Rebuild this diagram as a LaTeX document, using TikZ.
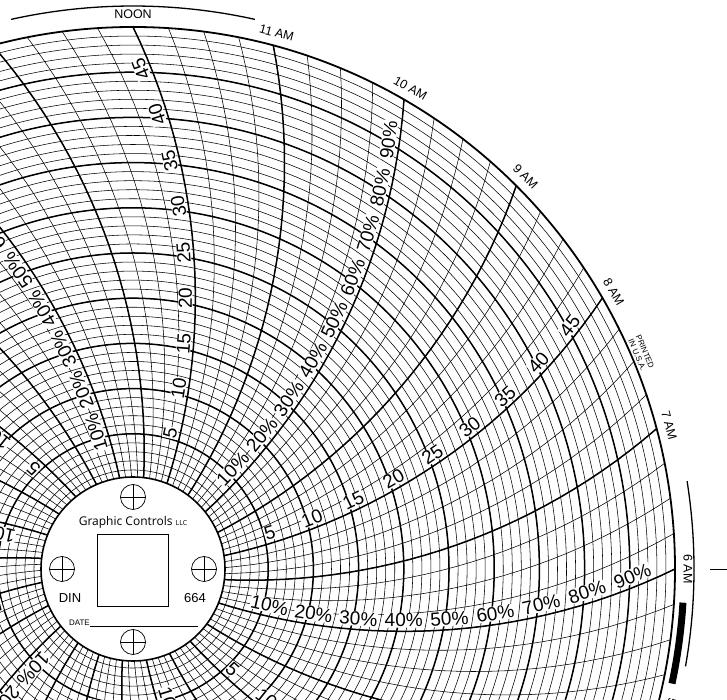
\documentclass[tikz,border=0pt]{standalone}
\usepackage{fontspec}
\usetikzlibrary{calc}
\setmainfont{Liberation Sans}
\newfontfamily\gcfont{Open Sans}
\begin{document}
\begin{tikzpicture}[x=1pt,y=1pt,
  thinl/.style={line width=0.55pt},
  boldl/.style={line width=1.5pt},
  lab/.style={font=\fontsize{19}{19}\selectfont,fill=white,inner sep=0.5pt},
  hourlab/.style={font=\fontsize{12.5}{13}\selectfont,inner sep=0pt},
  cross/.style={line width=0.7pt}]
\useasboundingbox (0,0) rectangle (727,700);
\clip (0,0) rectangle (727,700);
\begin{scope}[shift={(133,131)}]
% concentric circles
\foreach \v in {1,...,49}{\draw[thinl] (0,0) circle ({90+9.04*\v});}
\foreach \v in {5,10,...,45}{\draw[boldl] (0,0) circle ({90+9.04*\v});}
\draw[line width=1.8pt] (0,0) circle (542);
% time lines
\foreach \i in {0,...,95}{
  \pgfmathsetmacro\th{\i*3.75}
  \draw[thinl] plot[domain=90:542,samples=30,variable=\r] ({\th-acos(\r/1240)+64.08}:{\r});
}
\foreach \i in {0,4,...,92}{
  \pgfmathsetmacro\th{\i*3.75}
  \draw[boldl] plot[domain=90:542,samples=30,variable=\r] ({\th-acos(\r/1240)+64.08}:{\r});
}
% scale labels
\foreach \th in {30,90,150,210,270,330}{
  \foreach \v in {5,10,...,45}{
    \pgfmathsetmacro\rr{90+9.04*\v+7}
    \pgfmathsetmacro\ph{\th-acos(\rr/1240)+64.08}
    \pgfmathsetmacro\ta{\ph+asin(\rr/1240)}
    \node[lab,rotate=\ta] (n\th-\v) at ($(\ph:\rr)+(\ta+90:10)$) {\v};
  }
}
\foreach \th in {0,60,120,180,240,300}{
  \foreach \v in {5,10,...,45}{
    \pgfmathsetmacro\rr{90+9.04*\v+7}
    \pgfmathsetmacro\ph{\th-acos(\rr/1240)+64.08}
    \pgfmathsetmacro\ta{\ph+asin(\rr/1240)}
    \pgfmathtruncatemacro\pc{2*\v}
    \node[lab,rotate=\ta] (p\th-\v) at ($(\ph:\rr)+(\ta+90:11)$) {\pc\%};
  }
}
% hub
\fill[white] (0,0) circle (92);
\draw[line width=1.6pt] (0,0) circle (92);
\node[font=\gcfont\fontsize{12}{12}\selectfont] (gc) at (0,47) {Graphic Controls {\fontsize{7}{7}\selectfont LLC}};
\draw[line width=0.8pt] (-36,-37) rectangle (35,35);
\foreach \cx/\cy/\n in {0/72/c1,0/-73/c2,-71/0/c3,71/0/c4}{
  \coordinate (\n) at (\cx,\cy);
  \draw[cross] (\n) circle (12.5);
  \draw[cross] ($(\n)+(-12.5,0)$) -- ($(\n)+(12.5,0)$);
  \draw[cross] ($(\n)+(0,-12.5)$) -- ($(\n)+(0,12.5)$);
}
\node[font=\fontsize{13}{13}\selectfont] (din) at (-63,-29) {DIN};
\node[font=\fontsize{13}{13}\selectfont] (num) at (62,-29) {664};
\node[font=\fontsize{8}{8}\selectfont,anchor=base east,inner sep=0pt] (date) at (-43,-57) {DATE};
\draw[line width=0.6pt] (date.base east) -- ++(108,0);
% hour labels
\foreach \t/\a in {NOON/90,11 AM/75,10 AM/60,9 AM/45,8 AM/30,7 AM/15,6 AM/0,5 AM/-15}{
  \node[hourlab,rotate=\a-90] at (\a:555) {\t};
}
\node[font=\fontsize{8}{8.5}\selectfont,align=center,rotate=-67,inner sep=0pt] (pr) at (23:552) {PRINTED\\IN U.S.A.};
% outer marks
\draw[line width=1.3pt] (77.5:563) arc (77.5:102.5:563);
\draw[line width=1.3pt] (9:561) arc (9:-10:561);
\draw[line width=7pt] (-3.5:551) arc (-3.5:-12:551);
\draw[line width=0.8pt] (0:577) -- (0:600);
\end{scope}
\end{tikzpicture}
\end{document}
